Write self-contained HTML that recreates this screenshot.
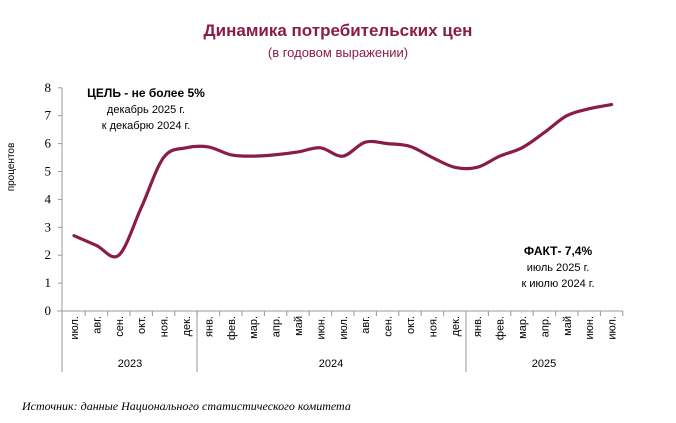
<!DOCTYPE html>
<html><head><meta charset="utf-8"><style>
body{margin:0;background:#fff;width:676px;height:418px;overflow:hidden}
text{font-family:"Liberation Sans",sans-serif}
text.sf{font-family:"Liberation Serif",serif}
</style></head><body>
<svg id="s" width="676" height="418" xmlns="http://www.w3.org/2000/svg">
<text x="338" y="36" text-anchor="middle" font-size="17" font-weight="bold" fill="#8a1c4a">Динамика потребительских цен</text>
<text x="338" y="57" text-anchor="middle" font-size="13" fill="#8a1c4a">(в годовом выражении)</text>
<text transform="translate(14,167) rotate(-90)" text-anchor="middle" font-size="10" fill="#000">процентов</text>
<g font-size="13" text-anchor="end" fill="#000" id="yl"></g>
<line x1="62" y1="88" x2="62" y2="372" stroke="#999" stroke-width="1"/>
<line x1="57" y1="311" x2="623" y2="311" stroke="#999" stroke-width="1"/>
<line x1="197" y1="311" x2="197" y2="372" stroke="#999"/>
<line x1="466" y1="311" x2="466" y2="372" stroke="#999"/>
<g id="xl" font-size="11" fill="#000"></g>
<text x="130" y="367" text-anchor="middle" font-size="11">2023</text>
<text x="331" y="367" text-anchor="middle" font-size="11">2024</text>
<text x="544" y="367" text-anchor="middle" font-size="11">2025</text>
<text x="146" y="97" text-anchor="middle" font-size="12" font-weight="bold">ЦЕЛЬ - не более 5%</text>
<text x="146" y="113" text-anchor="middle" font-size="11">декабрь 2025 г.</text>
<text x="146" y="129" text-anchor="middle" font-size="11">к декабрю 2024 г.</text>
<text x="558" y="255" text-anchor="middle" font-size="12" font-weight="bold">ФАКТ- 7,4%</text>
<text x="558" y="271" text-anchor="middle" font-size="11">июль 2025 г.</text>
<text x="558" y="287" text-anchor="middle" font-size="11">к июлю 2024 г.</text>
<text class="sf" x="22" y="410" font-style="italic" font-size="12">Источник: данные Национального статистического комитета</text>
<path id="ln" fill="none" stroke="#8a1c4a" stroke-width="3.2" stroke-linecap="round"/>
</svg>
<script>
var ns="http://www.w3.org/2000/svg";
function y(v){return 311-v*27.9}
var yl=document.getElementById('yl');
for(var i=0;i<=8;i++){var t=document.createElementNS(ns,'text');t.setAttribute('class','sf');t.setAttribute('x',51);t.setAttribute('y',y(i)+4);t.textContent=i;yl.appendChild(t);
var l=document.createElementNS(ns,'line');l.setAttribute('x1',58);l.setAttribute('x2',62);l.setAttribute('y1',y(i));l.setAttribute('y2',y(i));l.setAttribute('stroke','#999');yl.appendChild(l);}
var m=["июл.","авг.","сен.","окт.","ноя.","дек.","янв.","фев.","мар.","апр.","май","июн.","июл.","авг.","сен.","окт.","ноя.","дек.","янв.","фев.","мар.","апр.","май","июн.","июл."];
var v=[2.7,2.35,2.0,3.7,5.5,5.85,5.88,5.6,5.55,5.6,5.7,5.85,5.55,6.05,6.0,5.9,5.5,5.15,5.15,5.55,5.85,6.4,7.0,7.25,7.4];
var xl=document.getElementById('xl');
function cx(i){return 62.8+22.4*(i+0.5)}
for(var i=0;i<25;i++){var t=document.createElementNS(ns,'text');var x=cx(i)+4;t.setAttribute('transform','translate('+x+',316) rotate(-90)');t.setAttribute('text-anchor','end');t.textContent=m[i];xl.appendChild(t);
var l=document.createElementNS(ns,'line');var bx=62.8+22.4*(i+1);l.setAttribute('x1',bx);l.setAttribute('x2',bx);l.setAttribute('y1',311);l.setAttribute('y2',316);l.setAttribute('stroke','#999');xl.appendChild(l);}
var p=v.map(function(a,i){return [cx(i),y(a)]});
var d="M"+p[0][0]+","+p[0][1];
for(var i=0;i<p.length-1;i++){var p0=p[Math.max(0,i-1)],p1=p[i],p2=p[i+1],p3=p[Math.min(p.length-1,i+2)];var k=6;
d+=" C"+(p1[0]+(p2[0]-p0[0])/k)+","+(p1[1]+(p2[1]-p0[1])/k)+" "+(p2[0]-(p3[0]-p1[0])/k)+","+(p2[1]-(p3[1]-p1[1])/k)+" "+p2[0]+","+p2[1];}
document.getElementById('ln').setAttribute('d',d);
</script>
</body></html>
